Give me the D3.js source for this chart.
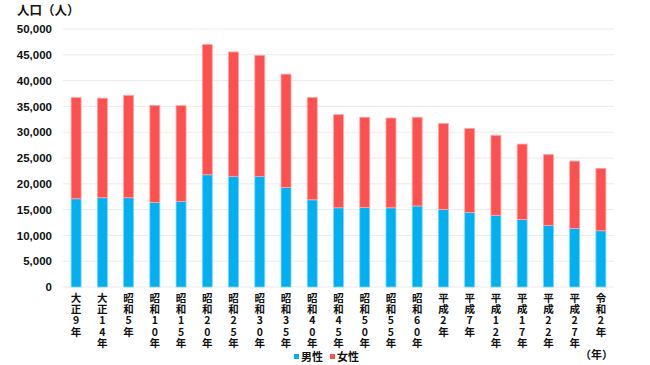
<!DOCTYPE html>
<html><head><meta charset="utf-8">
<script src="https://cdn.jsdelivr.net/npm/d3@7"></script>
<style>body{margin:0;background:#fff}svg{display:block;font-family:"Noto Sans CJK JP","Noto Sans",sans-serif}</style>
</head><body><svg id="c" width="650" height="365"></svg>
<script>
const categories = ["大正9年","大正14年","昭和5年","昭和10年","昭和15年","昭和20年","昭和25年","昭和30年","昭和35年","昭和40年","昭和45年","昭和50年","昭和55年","昭和60年","平成2年","平成7年","平成12年","平成17年","平成22年","平成27年","令和2年"];
const male   = [17100,17300,17300,16400,16600,21750,21450,21400,19300,16900,15350,15400,15350,15700,15050,14450,13900,13100,11950,11350,10900];
const female = [19600,19300,19850,18800,18550,25250,24100,23500,21950,19850,18050,17500,17400,17200,16650,16250,15500,14600,13750,13050,12100];
const yTicks = [0,5000,10000,15000,20000,25000,30000,35000,40000,45000,50000];
const legendLabels = ["男性","女性"];
const colors = ["#00B0F0","#FF5050"];

const svg = d3.select("#c");
const x = d3.scaleBand().domain(categories).range([63,614]).paddingInner(0.62).paddingOuter(0.31);
const y = d3.scaleLinear().domain([0,50000]).range([287,29]);

// gridlines
svg.append("g").selectAll("line").data(yTicks).join("line")
  .attr("x1",63).attr("x2",614).attr("y1",d=>y(d)).attr("y2",d=>y(d))
  .attr("stroke","#ebebeb").attr("stroke-width",1);

// y labels
const yAxis = d3.axisLeft(y).tickValues(yTicks).tickSize(0).tickPadding(0).tickFormat(d3.format(","));
const ya = svg.append("g").attr("transform","translate(52,0)").call(yAxis);
ya.select(".domain").remove();
ya.selectAll("text").attr("font-size",11.5).attr("font-weight","bold").attr("fill","#111")
  .attr("font-family","Liberation Sans, Arial, sans-serif");

// stacked bars
const rows = categories.map((c,i)=>({cat:c, male:male[i], female:female[i]}));
const stack = d3.stack().keys(["male","female"])(rows);
svg.append("g").selectAll("g").data(stack).join("g")
  .attr("fill",(d,i)=>colors[i]).attr("stroke",(d,i)=>i===0?"#7fd6f7":"#ffa8a8").attr("stroke-width",0.8)
  .selectAll("rect").data(d=>d).join("rect")
  .attr("x",d=>x(d.data.cat)).attr("width",x.bandwidth())
  .attr("y",d=>y(d[1])).attr("height",d=>y(d[0])-y(d[1]));

// x labels vertical
const xl = svg.append("g");
categories.forEach(c=>{
  const chars = Array.from(c);
  const t = xl.append("text").attr("x",x(c)+x.bandwidth()/2).attr("y",302)
    .attr("text-anchor","middle").attr("font-size",10.5).attr("font-weight","bold").attr("fill","#111");
  chars.forEach((ch,j)=>{
    t.append("tspan").attr("x",x(c)+x.bandwidth()/2).attr("y",302+j*11.2).text(ch);
  });
});

// title
svg.append("text").attr("x",17).attr("y",15).attr("font-size",12.5).attr("font-weight","bold").attr("fill","#111").text("人口（人）");
// year unit
svg.append("text").attr("x",613).attr("y",359).attr("text-anchor","end").attr("font-size",11).attr("font-weight","bold").attr("fill","#111").text("（年）");

// legend
const lg = svg.append("g").attr("transform","translate(294,361)");
legendLabels.forEach((l,i)=>{
  const g = lg.append("g").attr("transform",`translate(${i*36},0)`);
  g.append("rect").attr("x",0).attr("y",-7).attr("width",5).attr("height",5).attr("fill",colors[i]);
  g.append("text").attr("x",7).attr("y",0).attr("font-size",11).attr("font-weight","bold").attr("fill","#111").text(l);
});
</script></body></html>
